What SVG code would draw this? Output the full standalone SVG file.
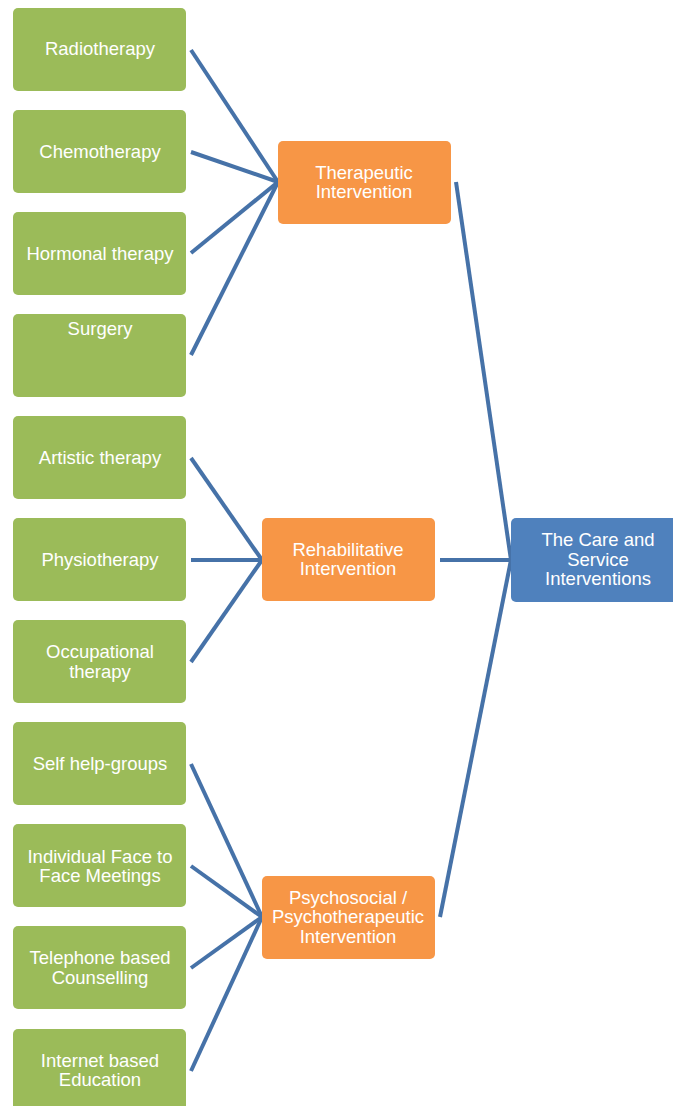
<svg xmlns="http://www.w3.org/2000/svg" width="673" height="1106" viewBox="0 0 673 1106">
<style>
.g{fill:#9bbb59}
.o{fill:#f79646}
.b{fill:#4f81bd}
text{font-family:"Liberation Sans",Arial,sans-serif;font-size:18.5px;fill:#fff;text-anchor:middle}
.c line{stroke:#4672a8;stroke-width:4;stroke-linecap:butt}
</style>
<rect width="673" height="1106" fill="#fff"/>
<g class="c" id="connectors">
<line x1="191" y1="50" x2="278" y2="182"/>
<line x1="191" y1="152" x2="278" y2="182"/>
<line x1="191" y1="253" x2="278" y2="182"/>
<line x1="191" y1="355" x2="278" y2="182"/>
<line x1="191" y1="458" x2="262" y2="560"/>
<line x1="191" y1="560" x2="262" y2="560"/>
<line x1="191" y1="662" x2="262" y2="560"/>
<line x1="191" y1="764" x2="262" y2="917"/>
<line x1="191" y1="866" x2="262" y2="917"/>
<line x1="191" y1="968" x2="262" y2="917"/>
<line x1="191" y1="1071" x2="262" y2="917"/>
<line x1="456" y1="182" x2="511" y2="560"/>
<line x1="440" y1="560" x2="511" y2="560"/>
<line x1="440" y1="917" x2="511" y2="560"/>
</g>
<g id="n1"><rect class="g" x="13" y="8" width="173" height="83" rx="5"/><text x="100" y="55">Radiotherapy</text></g>
<g id="n2"><rect class="g" x="13" y="110" width="173" height="83" rx="5"/><text x="100" y="158">Chemotherapy</text></g>
<g id="n3"><rect class="g" x="13" y="212" width="173" height="83" rx="5"/><text x="100" y="260">Hormonal therapy</text></g>
<g id="n4"><rect class="g" x="13" y="314" width="173" height="83" rx="5"/><text x="100" y="335">Surgery</text></g>
<g id="n5"><rect class="g" x="13" y="416" width="173" height="83" rx="5"/><text x="100" y="464">Artistic therapy</text></g>
<g id="n6"><rect class="g" x="13" y="518" width="173" height="83" rx="5"/><text x="100" y="566">Physiotherapy</text></g>
<g id="n7"><rect class="g" x="13" y="620" width="173" height="83" rx="5"/><text x="100" y="658">Occupational</text><text x="100" y="678">therapy</text></g>
<g id="n8"><rect class="g" x="13" y="722" width="173" height="83" rx="5"/><text x="100" y="770">Self help-groups</text></g>
<g id="n9"><rect class="g" x="13" y="824" width="173" height="83" rx="5"/><text x="100" y="863">Individual Face to</text><text x="100" y="882">Face Meetings</text></g>
<g id="n10"><rect class="g" x="13" y="926" width="173" height="83" rx="5"/><text x="100" y="964">Telephone based</text><text x="100" y="984">Counselling</text></g>
<g id="n11"><rect class="g" x="13" y="1029" width="173" height="83" rx="5"/><text x="100" y="1067">Internet based</text><text x="100" y="1086">Education</text></g>
<g id="t1"><rect class="o" x="278" y="141" width="173" height="83" rx="5"/><text x="364" y="179">Therapeutic</text><text x="364" y="198">Intervention</text></g>
<g id="t2"><rect class="o" x="262" y="518" width="173" height="83" rx="5"/><text x="348" y="556">Rehabilitative</text><text x="348" y="575">Intervention</text></g>
<g id="t3"><rect class="o" x="262" y="876" width="173" height="83" rx="5"/><text x="348" y="904">Psychosocial /</text><text x="348" y="923">Psychotherapeutic</text><text x="348" y="943">Intervention</text></g>
<g id="root"><rect class="b" x="511" y="518" width="180" height="84" rx="5"/><text x="598" y="546">The Care and</text><text x="598" y="566">Service</text><text x="598" y="585">Interventions</text></g>
</svg>
